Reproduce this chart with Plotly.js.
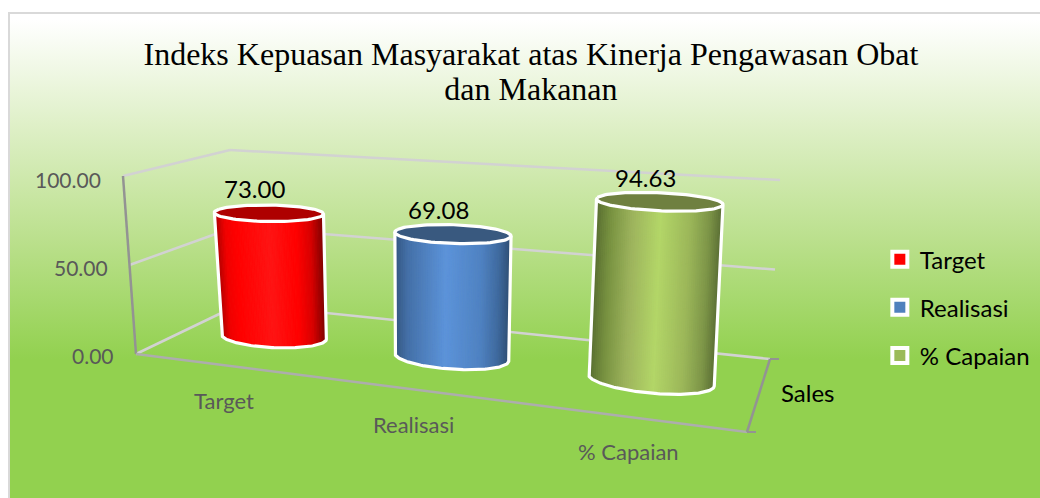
<!DOCTYPE html>
<html>
<head>
<meta charset="utf-8">
<script src="https://cdn.plot.ly/plotly-3.0.1.min.js"></script>
<style>
html,body{margin:0;padding:0;background:#fff;width:1040px;height:498px;overflow:hidden}
#frame{position:absolute;left:8px;top:12px;width:1032px;height:486px;border:2px solid #d9d9d9;border-right:0;border-bottom:0;box-sizing:border-box;
background:linear-gradient(180deg,#ffffff 0px,#ffffff 6px,#dff0c8 110px,#bbe08d 225px,#92d14f 345px,#92d14f 486px)}
#chart{position:absolute;left:0;top:0;width:1040px;height:498px}
</style>
</head>
<body>
<div id="frame"></div>
<div id="chart"></div>
<script>
// ---- data ----
var categories = ['Target', 'Realisasi', '% Capaian'];
var values = [73.00, 69.08, 94.63];
var valueTicks = [100, 50, 0];
var seriesAxisLabel = 'Sales';
var titleLines = ['Indeks Kepuasan Masyarakat atas Kinerja Pengawasan Obat', 'dan Makanan'];

// ---- colours ----
var legendColors = ['#ff0000', '#4f81bd', '#9bbb59'];
var capColors = ['#ae0000', '#39597f', '#6f8040'];
var shade = [
  [[0,'#a80000'],[0.1,'#f00000'],[0.2,'#ff0000'],[0.5,'#ff1414'],[0.75,'#ff0000'],[0.88,'#d80000'],[1,'#7c0000']],
  [[0,'#34557f'],[0.12,'#4470a8'],[0.45,'#5c93da'],[0.75,'#4f82c2'],[0.9,'#3f6a9f'],[1,'#2f4e74']],
  [[0,'#566b30'],[0.12,'#76903f'],[0.3,'#9db35d'],[0.52,'#b3d668'],[0.75,'#9cb75a'],[0.9,'#7d9548'],[1,'#5a6e34']]
];

// ---- 3D box projection: (category, depth, value) -> chart coordinates ----
function homography(q){
  var x0=q[0][0],y0=q[0][1],x1=q[1][0],y1=q[1][1],x2=q[2][0],y2=q[2][1],x3=q[3][0],y3=q[3][1];
  var dx1=x1-x2,dx2=x3-x2,sx=x0-x1+x2-x3,dy1=y1-y2,dy2=y3-y2,sy=y0-y1+y2-y3;
  var den=dx1*dy2-dx2*dy1,g=(sx*dy2-dx2*sy)/den,h=(dx1*sy-sx*dy1)/den;
  var a=x1-x0+g*x1,b=x3-x0+h*x3,d=y1-y0+g*y1,e=y3-y0+h*y3;
  return function(u,v){var w=g*u+h*v+1;return [(a*u+b*v+x0)/w,(d*u+e*v+y0)/w];};
}
var floorPlane = homography([[136,354],[747,432],[770,359],[240,304]]);
var roofPlane  = homography([[123,176],[761,220],[780,180],[230,150]]);
function warp(u,k){return u*(1+k)/(1+k*u);}
var nCat = categories.length, vMax = 100;
function P(c,d,v){
  var u=c/nCat, a=floorPlane(warp(u,0.025),d), b=roofPlane(warp(u,0.08),d), t=v/vMax;
  return [a[0]+(b[0]-a[0])*t, a[1]+(b[1]-a[1])*t];
}

function mix(stops,t){
  for(var i=1;i<stops.length;i++){ if(t<=stops[i][0]){
    var s=stops[i-1],e=stops[i],k=(t-s[0])/(e[0]-s[0]);
    var hx=function(c,o){return parseInt(c.substr(o,2),16);};
    var o=[1,3,5].map(function(p){return Math.round(hx(s[1],p)+(hx(e[1],p)-hx(s[1],p))*k);});
    return 'rgb('+o.join(',')+')';
  }}
  return stops[stops.length-1][1];
}
function poly(pts,extra){
  var t={type:'scatter',mode:'lines',x:pts.map(function(p){return p[0];}),y:pts.map(function(p){return p[1];}),
         hoverinfo:'skip',showlegend:false};
  for(var k in extra)t[k]=extra[k];
  return t;
}
function seg(a,b,color,w){return poly([a,b],{line:{color:color,width:w}});}

var traces=[];
// walls gridlines
var gridCol='#d2d2d2';
[0,50,100].forEach(function(v){
  traces.push(seg(P(0,1,v),P(nCat,1,v),gridCol,2.5));
  traces.push(seg(P(0,0,v),P(0,1,v),gridCol,2.5));
});
// axes
var axisCol='#939393';
traces.push(seg(P(0,0,0),P(0,0,100),axisCol,2.5));
traces.push(seg(P(0,0,0),P(nCat,0,0),'#adadad',2.5));
traces.push(seg(P(nCat,0,0),P(nCat,1,0),axisCol,2.5));
var bf=P(nCat,0,0), bb=P(nCat,1,0);
traces.push(seg(bf,[bf[0]+9,bf[1]],axisCol,2));
traces.push(seg(bb,[bb[0]+9,bb[1]],axisCol,2));

// cylinders
var rC=0.295, rD=0.18, STRIPS=64;
function rim(c,v,phi){
  var s=v/vMax;
  return P(c-rC*(1-0.025*s)*Math.cos(phi),0.5-rD*(1+0.25*s)*Math.sin(phi),v);
}
function extreme(c,v){
  // silhouette angles: the rim points furthest left and right on the page
  var best=[0,Math.PI],lo=Infinity,hi=-Infinity,n;
  for(n=-90;n<=90;n++){var a=n*Math.PI/180,x=rim(c,v,a)[0];if(x<lo){lo=x;best[0]=a;}}
  for(n=90;n<=270;n++){var b=n*Math.PI/180,y=rim(c,v,b)[0];if(y>hi){hi=y;best[1]=b;}}
  return best;
}
values.forEach(function(val,i){
  var c=i+0.5, k, pts, j, n=4;
  var eB=extreme(c,0), eT=extreme(c,val);
  function ang(e,t){return e[0]+(e[1]-e[0])*Math.acos(1-2*t)/Math.PI;}
  for(k=0;k<STRIPS;k++){
    var t0=k/STRIPS,t1=(k+1)/STRIPS,col=mix(shade[i],(k+0.5)/STRIPS);
    pts=[];
    for(j=0;j<=n;j++)pts.push(rim(c,0,ang(eB,t0+(t1-t0)*j/n)));
    for(j=n;j>=0;j--)pts.push(rim(c,val,ang(eT,t0+(t1-t0)*j/n)));
    pts.push(pts[0]);
    traces.push(poly(pts,{fill:'toself',fillcolor:col,line:{color:col,width:1}}));
  }
  // cap
  var cap=[],K=90;
  for(k=0;k<=K;k++)cap.push(rim(c,val,2*Math.PI*k/K));
  traces.push(poly(cap,{fill:'toself',fillcolor:capColors[i],line:{color:'#ffffff',width:3.2}}));
  // white silhouette
  var out=[rim(c,val,eT[0])];
  for(k=0;k<=K;k++)out.push(rim(c,0,eB[0]+(eB[1]-eB[0])*k/K));
  out.push(rim(c,val,eT[1]));
  traces.push(poly(out,{line:{color:'#ffffff',width:3.2}}));
});

// legend entries
categories.forEach(function(name,i){
  traces.push({type:'scatter',mode:'markers',x:[-100],y:[-100],name:name,legendgroup:name,hoverinfo:'skip',
    marker:{symbol:'square',size:15,color:legendColors[i],line:{color:'#ffffff',width:4}}});
});

// text
var sans='Lato, sans-serif', ann=[];
function label(pt,text,size,color,anchor){
  ann.push({xref:'x',yref:'y',x:pt[0],y:pt[1],text:text,showarrow:false,xanchor:anchor||'center',yanchor:'middle',
    font:{family:sans,size:size,color:color}});
}
values.forEach(function(val,i){
  var t=P(i+0.5,0.5,val);
  label([t[0]-14,t[1]-24],val.toFixed(2),24,'#000000');
});
valueTicks.forEach(function(v){
  var t=P(0,0,v);
  label([t[0]-20,t[1]+1+2*v/vMax],v.toFixed(2),21,'#595959','right');
});
categories.forEach(function(name,i){
  var t=P(i+0.5,0,0);
  label([t[0]+1,t[1]+35],name,22,'#595959');
});
var sa=P(nCat,0.5,0);
label([sa[0]+48,sa[1]],seriesAxisLabel,24,'#000000');

var layout={
  width:1040,height:498,margin:{l:0,r:0,t:0,b:0},
  paper_bgcolor:'rgba(0,0,0,0)',plot_bgcolor:'rgba(0,0,0,0)',
  title:{text:titleLines.map(function(s){return '<span style="font-size:32px">'+s+'</span>';}).join('<br>'),
    x:0.5105,xanchor:'center',y:0.87,yanchor:'bottom',yref:'container',
    font:{family:'"Liberation Serif", serif',size:27.5,color:'#000000'}},
  xaxis:{range:[0,1040],visible:false,fixedrange:true},
  yaxis:{range:[498,0],visible:false,fixedrange:true},
  showlegend:true,
  legend:{x:0.846,xanchor:'left',y:0.524,yanchor:'top',yref:'paper',tracegroupgap:14,bgcolor:'rgba(0,0,0,0)',
    font:{family:sans,size:24,color:'#000000'},itemclick:false,itemdoubleclick:false},
  annotations:ann
};
Plotly.newPlot('chart',traces,layout,{displayModeBar:false,staticPlot:true});
</script>
</body>
</html>
